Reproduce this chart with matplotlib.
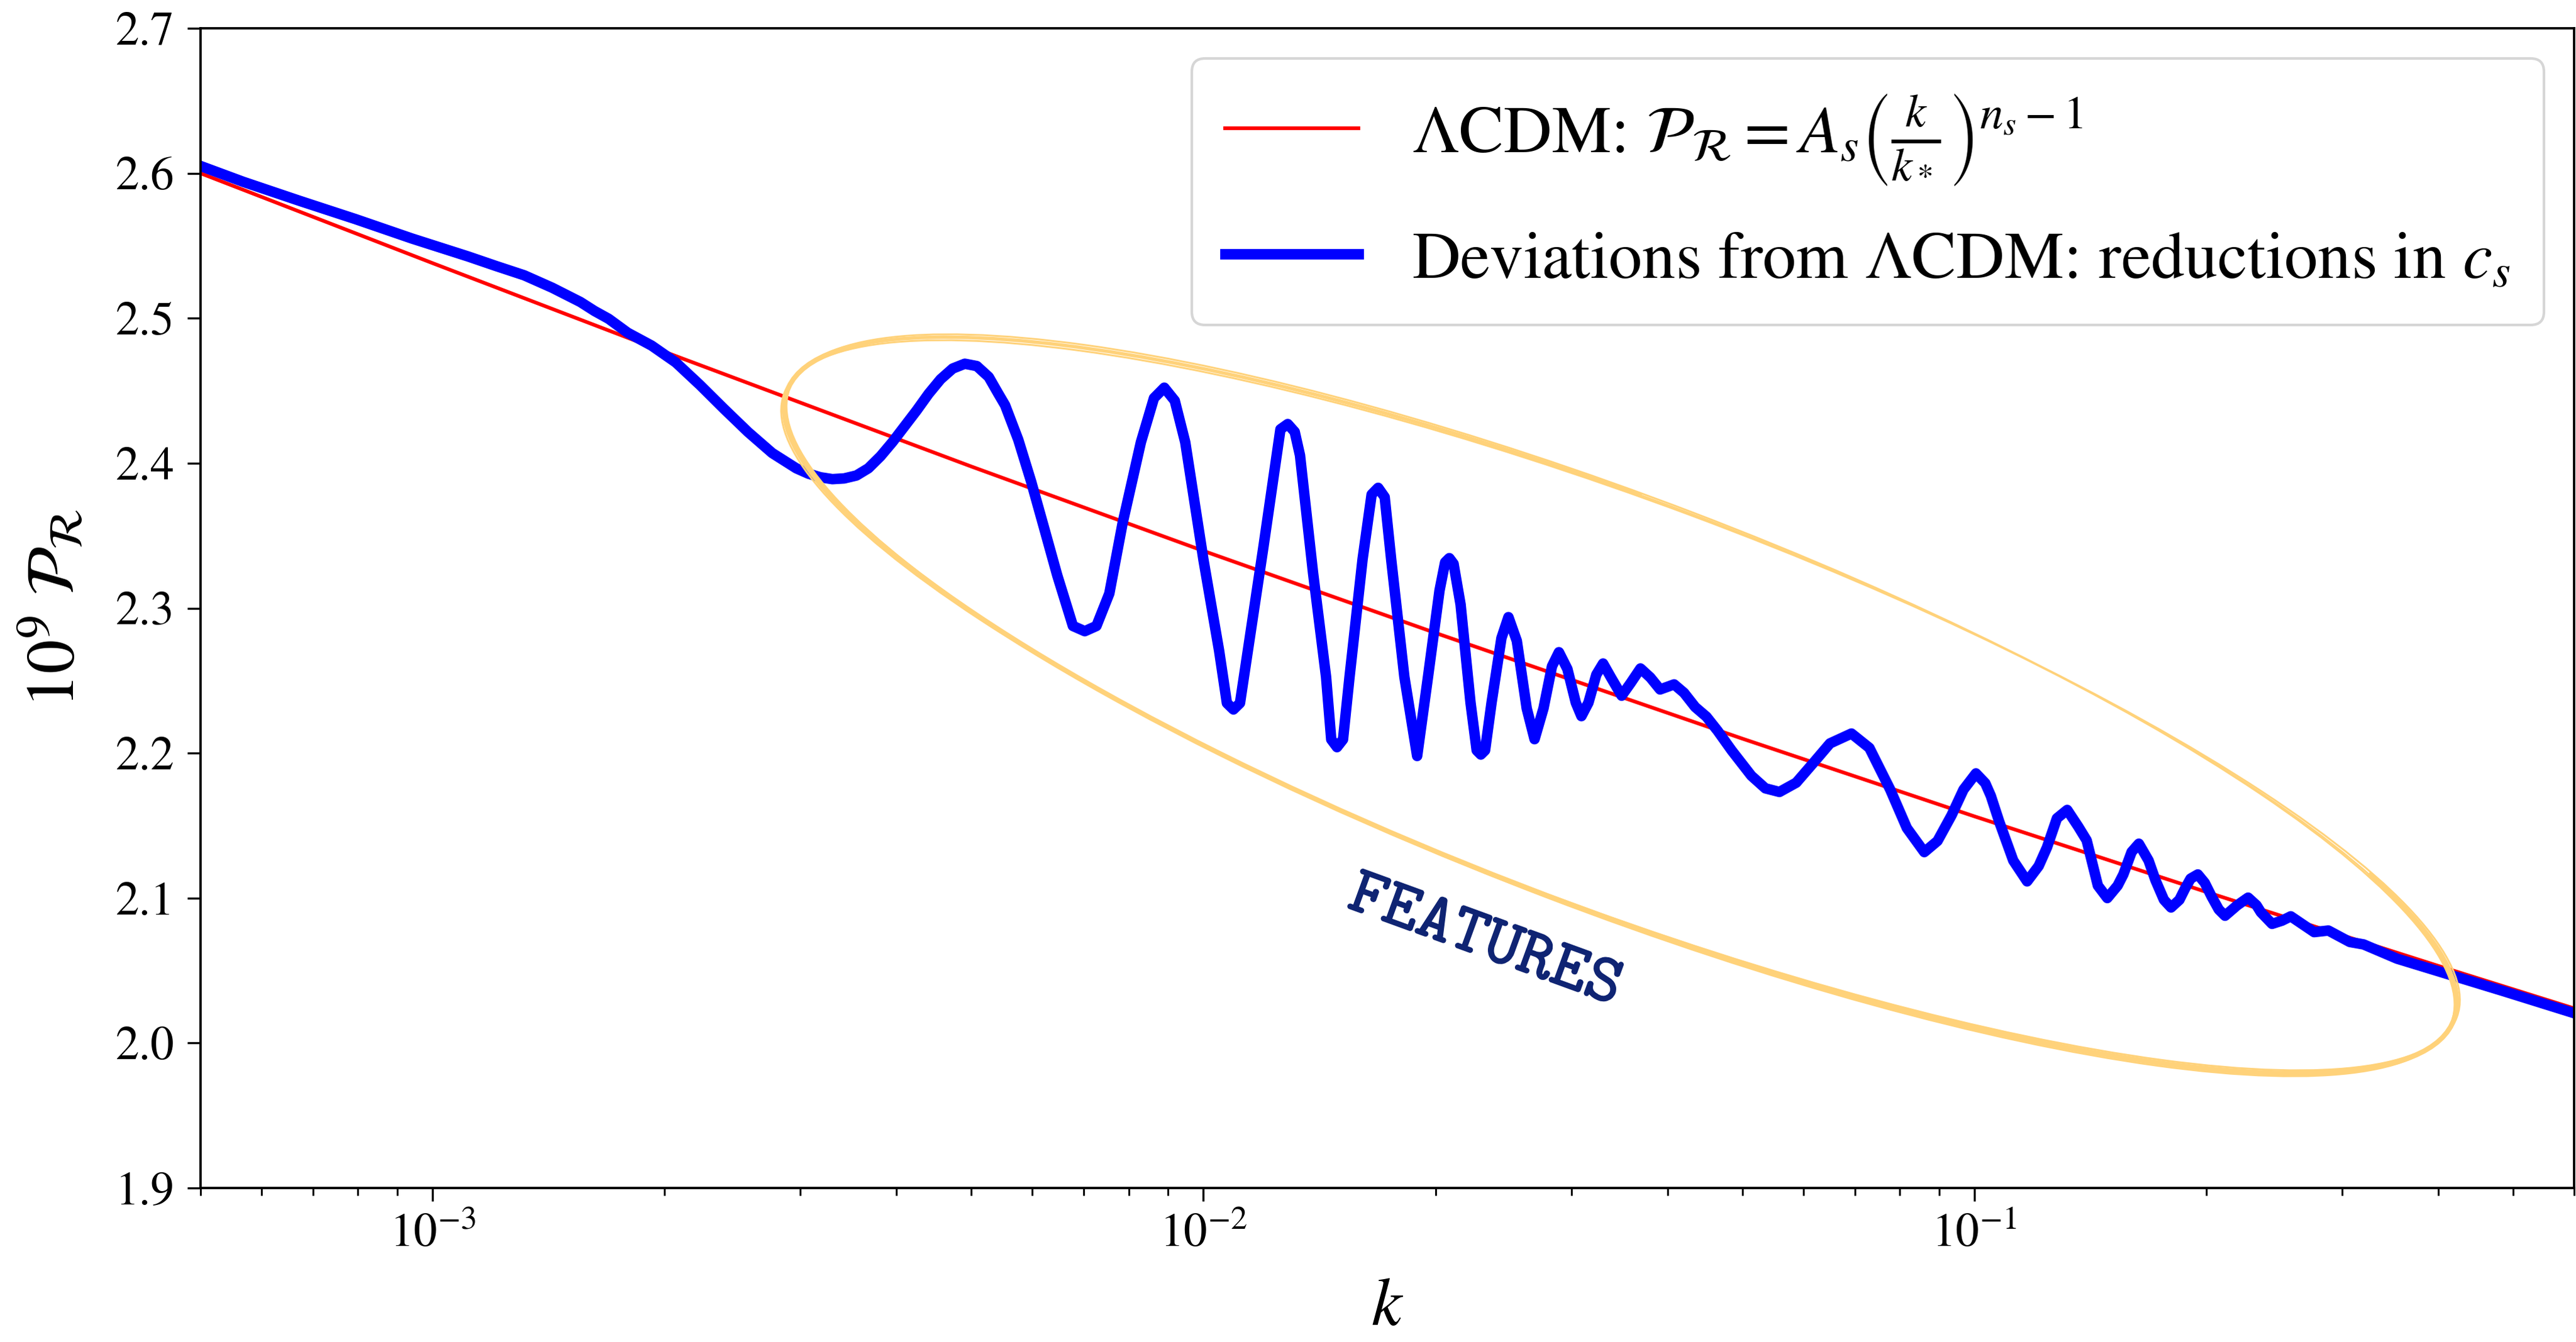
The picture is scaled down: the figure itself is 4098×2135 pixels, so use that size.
import numpy as np
import matplotlib
matplotlib.use("Agg")
import matplotlib.pyplot as plt
import matplotlib.patheffects as pe
from matplotlib.patches import Ellipse, Arc

plt.rcParams["font.family"] = ["STIXGeneral", "DejaVu Serif"]
plt.rcParams["mathtext.fontset"] = "stix"

# LCDM power law
k_lcdm = [5e-4, 1e-3, 2e-3, 5e-3, 0.01, 0.02, 0.05, 0.1, 0.2, 0.4, 0.6]
p_lcdm = [2.600, 2.538, 2.4768, 2.3977, 2.3395, 2.2829, 2.210, 2.1564, 2.1042, 2.0532, 2.0239]

# spectrum with reductions in the speed of sound
k_dev = [5.0e-4, 5.68e-4, 6.72e-4, 7.95e-4, 9.40e-4, 1.112e-3, 1.209e-3, 1.315e-3,
         1.43e-3, 1.555e-3, 1.622e-3, 1.692e-3, 1.791e-3, 1.924e-3, 2.068e-3, 2.222e-3,
         2.388e-3, 2.566e-3, 2.758e-3, 2.963e-3, 3.072e-3, 3.184e-3, 3.301e-3, 3.42e-3,
         3.547e-3, 3.676e-3, 3.812e-3, 3.952e-3, 4.096e-3, 4.245e-3, 4.401e-3, 4.561e-3,
         4.729e-3, 4.903e-3, 5.082e-3, 5.266e-3, 5.42e-3, 5.53e-3, 5.752e-3, 5.977e-3,
         6.216e-3, 6.462e-3, 6.772e-3, 7.016e-3, 7.265e-3, 7.55e-3, 7.855e-3, 8.296e-3,
         8.627e-3, 8.897e-3, 9.18e-3, 9.472e-3, 0.0100, 0.01048, 0.010727, 0.010939,
         0.011154, 0.011418, 0.011965, 0.012444, 0.012587, 0.012865, 0.013135, 0.013344,
         0.013873, 0.014424, 0.014649, 0.014903, 0.015173, 0.015472, 0.016084, 0.016527,
         0.016853, 0.017184, 0.017522, 0.018225, 0.018934, 0.019575, 0.020243, 0.020583,
         0.020845, 0.021109, 0.021557, 0.022206, 0.022619, 0.022902, 0.023193, 0.023647,
         0.024354, 0.024869, 0.0255, 0.026263, 0.026887, 0.027616, 0.028324, 0.028917,
         0.029659, 0.030412, 0.030928, 0.031584, 0.032334, 0.032994, 0.033779, 0.034877,
         0.035822, 0.036893, 0.03799, 0.039119, 0.040794, 0.042016, 0.04344, 0.044933,
         0.046452, 0.04845, 0.051375, 0.053575, 0.05588, 0.058754, 0.061802, 0.064985,
         0.06929, 0.0731, 0.0778, 0.08176, 0.08613, 0.0896, 0.09344, 0.09683,
         0.1005, 0.10335, 0.10507, 0.10774, 0.11235, 0.1171, 0.12122, 0.12427,
         0.1280, 0.1320, 0.13646, 0.1399, 0.14466, 0.1488, 0.15346, 0.1561,
         0.1600, 0.1635, 0.16832, 0.1718, 0.17622, 0.1800, 0.18456, 0.1877,
         0.19082, 0.1950, 0.19907, 0.2033, 0.2076, 0.2115, 0.2193, 0.2266,
         0.23237, 0.2354, 0.2434, 0.2507, 0.2574, 0.2760, 0.2880, 0.3070,
         0.3200, 0.3535, 0.4858, 0.6]
p_dev = [2.605, 2.5941, 2.581, 2.5683, 2.555, 2.5426, 2.536, 2.5296,
         2.521, 2.5112, 2.505, 2.4996, 2.490, 2.4811, 2.4695, 2.4540,
         2.4375, 2.4215, 2.4070, 2.3965, 2.3928, 2.3903, 2.389, 2.3895,
         2.3915, 2.3965, 2.4048, 2.4147, 2.4255, 2.4363, 2.4479, 2.4579,
         2.4653, 2.4686, 2.467, 2.4595, 2.4479, 2.440, 2.4162, 2.3874,
         2.355, 2.3227, 2.2877, 2.2841, 2.2877, 2.3101, 2.3586, 2.4144,
         2.4449, 2.4521, 2.4431, 2.4144, 2.3335, 2.2706, 2.2345, 2.2301,
         2.2345, 2.2706, 2.3425, 2.4054, 2.4234, 2.427, 2.4216, 2.4054,
         2.3245, 2.2526, 2.2094, 2.2041, 2.2094, 2.2526, 2.3335, 2.3784,
         2.383, 2.3766, 2.3335, 2.2526, 2.198, 2.2541, 2.3122, 2.3316,
         2.3345, 2.3306, 2.3025, 2.2348, 2.2019, 2.199, 2.2019, 2.2348,
         2.2793, 2.2938, 2.2774, 2.2309, 2.2096, 2.2309, 2.2599, 2.2696,
         2.258, 2.2348, 2.2255, 2.2348, 2.2541, 2.2618, 2.2522, 2.2396,
         2.2483, 2.2584, 2.2522, 2.2439, 2.2474, 2.2416, 2.2318, 2.2251,
         2.2154, 2.2018, 2.1844, 2.1757, 2.1732, 2.1796, 2.1931, 2.2067,
         2.2135, 2.2036, 2.1748, 2.1483, 2.1317, 2.1394, 2.1571, 2.1748,
         2.186, 2.1792, 2.1705, 2.1527, 2.1259, 2.1115, 2.1221, 2.135,
         2.155, 2.1608, 2.1492, 2.1398, 2.1086, 2.100, 2.1086, 2.1163,
         2.1318, 2.1375, 2.1259, 2.1124, 2.0988, 2.0935, 2.0988, 2.1066,
         2.1134, 2.1163, 2.1105, 2.1008, 2.0921, 2.0878, 2.095, 2.1003,
         2.095, 2.0902, 2.0822, 2.0844, 2.0874, 2.0765, 2.0776, 2.0697,
         2.0680, 2.0582, 2.0358, 2.0206]

W, H, DPI = 4098, 2135, 300
fig = plt.figure(figsize=(W / DPI, H / DPI), dpi=DPI)
ax = fig.add_axes([319 / W, 245 / H, 3776 / W, 1845 / H])

ax.plot(k_lcdm, p_lcdm, color="red", lw=1.4,
        label=r"$\Lambda$CDM: $\mathcal{P}_\mathcal{R} = A_s\left(\frac{k}{k_*}\right)^{n_s-1}$")
ax.plot(k_dev, p_dev, color="blue", lw=4, solid_joinstyle="round",
        label=r"Deviations from $\Lambda$CDM: reductions in $c_s$")

ax.set_xscale("log")
ax.set_xlim(5e-4, 0.6)
ax.set_ylim(1.9, 2.7)
ax.set_yticks(np.arange(1.9, 2.71, 0.1))
ax.yaxis.set_major_formatter(matplotlib.ticker.FormatStrFormatter("%.1f"))
ax.tick_params(which="major", length=5, width=0.8, labelsize=18, pad=5)
ax.tick_params(which="minor", length=2.8, width=0.7)
for s in ax.spines.values():
    s.set_linewidth(0.9)

ax.set_xlabel(r"$k$", fontsize=26, labelpad=8)
ax.set_ylabel(r"$10^9\ \mathcal{P}_\mathcal{R}$", fontsize=26, labelpad=10)

ax.legend(loc="upper right", fontsize=25.5, handlelength=2.0, handletextpad=0.8,
          labelspacing=0.65, borderpad=0.5, borderaxespad=0.45)

# hand-drawn looking ellipse around the features (in inches)
cx, cy = 2578 / DPI, (H - 1122) / DPI
ew, eh, ang = 2834 / DPI, 649 / DPI, -20.7
ell_color = "#FFD27A"
for dw, dh, da in [(0, 0, 0), (0.02, -0.015, 0.25), (-0.015, 0.02, -0.2)]:
    fig.add_artist(Ellipse((cx, cy), ew + dw, eh + dh, angle=ang + da,
                           transform=fig.dpi_scale_trans, fill=False,
                           ec=ell_color, lw=0.7))
# heavier strokes on the lower side and the left end
fig.add_artist(Arc((cx, cy), ew, eh, angle=ang, theta1=175, theta2=368,
                   transform=fig.dpi_scale_trans, color=ell_color, lw=1.9))
fig.add_artist(Arc((cx, cy), ew, eh, angle=ang, theta1=105, theta2=180,
                   transform=fig.dpi_scale_trans, color=ell_color, lw=1.3))

ax.text(0.541, 0.211, "FEATURES", transform=ax.transAxes, rotation=-20,
        ha="center", va="center", fontsize=26, color="#0F2473",
        family=["cmtt10", "DejaVu Sans Mono"],
        path_effects=[pe.withStroke(linewidth=0.45, foreground="#0F2473")])

fig.savefig("out.png", dpi=DPI)
